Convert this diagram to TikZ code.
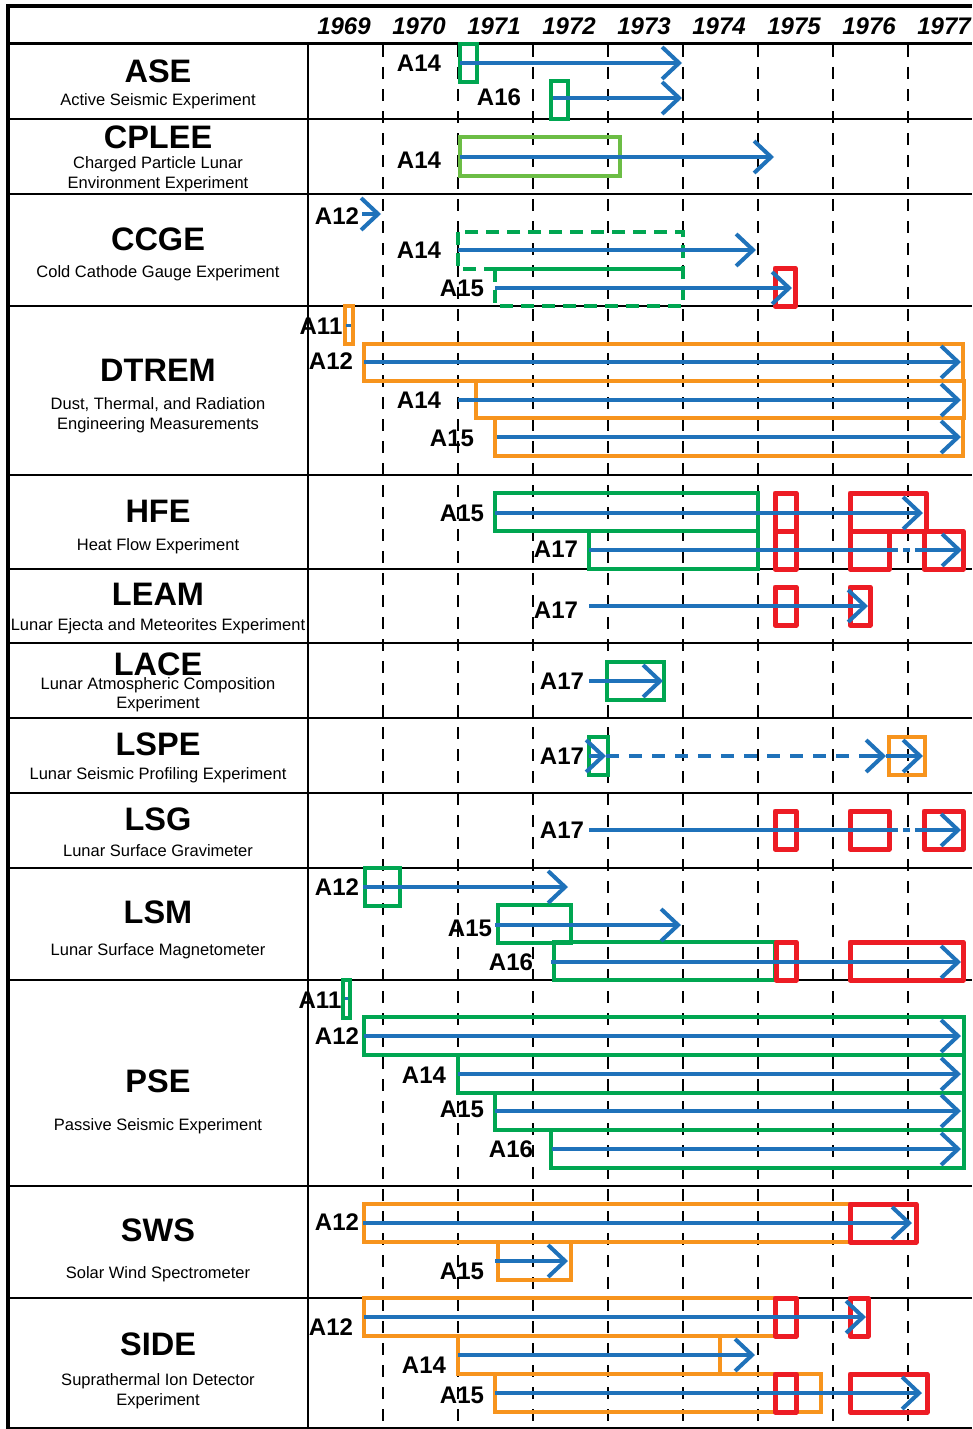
\documentclass[tikz,border=0pt]{standalone}
\usepackage{fontspec}
\setmainfont{Liberation Sans}
\usetikzlibrary{arrows.meta}
\definecolor{ablue}{RGB}{31,114,186}
\definecolor{agreen}{RGB}{0,166,81}
\definecolor{lgreen}{RGB}{108,189,69}
\definecolor{aorange}{RGB}{247,148,29}
\definecolor{ared}{RGB}{237,28,36}
\tikzset{
 arr/.style={draw=ablue, line width=4pt, -{Straight Barb[length=17pt,width=32pt]}},
 ln/.style={draw=ablue, line width=4pt},
 dln/.style={draw=ablue, line width=4pt, dash pattern=on 7pt off 5pt},
 lspedash/.style={draw=ablue, line width=4pt, dash pattern=on 13pt off 10pt},
 gbox/.style={draw=agreen, line width=3.5pt},
 gdash/.style={draw=agreen, line width=3.5pt, dash pattern=on 13pt off 8pt},
 lgbox/.style={draw=lgreen, line width=3.5pt},
 obox/.style={draw=aorange, line width=3.5pt},
 oboxthick/.style={draw=aorange, line width=4.5pt},
 rbox/.style={draw=ared, line width=5pt, line join=round},
 rowline/.style={draw=black, line width=2.5pt},
 yrline/.style={draw=black, line width=1.8pt, dash pattern=on 12pt off 10pt},
 lab/.style={font=\fontsize{24}{24}\selectfont\bfseries, inner sep=0pt},
 ttl/.style={font=\fontsize{32.5}{32.5}\selectfont\bfseries, anchor=base, inner sep=0pt},
 sub/.style={font=\fontsize{16.5}{16.5}\selectfont, anchor=base, inner sep=0pt},
 yr/.style={font=\fontsize{24}{24}\selectfont\bfseries\itshape, anchor=base, inner sep=0pt},
}
\begin{document}
\begin{tikzpicture}[x=1pt,y=-1pt]
\useasboundingbox[fill=white] (0,0) rectangle (972,1429);
% year dashed lines
\foreach \x in {383,458,533,608,683,758,833,908}
  \draw[yrline] (\x,45) -- (\x,1428);
% grid
\draw[draw=black, line width=4pt] (6,6) -- (972,6);
\draw[draw=black, line width=3.5pt] (8,4) -- (8,1429);
\draw[draw=black, line width=2pt] (308,44) -- (308,1429);
\draw[draw=black, line width=3pt] (8,44) -- (972,44);
\foreach \y in {119,194,306,475,569,643,718,793,868,980,1186,1298,1428}
  \draw[rowline] (8,\y) -- (972,\y);
% years
\foreach \yy [count=\i from 0] in {1969,1970,1971,1972,1973,1974,1975,1976,1977}
  \node[yr] (yr\yy) at ({344+75*\i},35) {\yy};
% left column
\node[ttl] (tASE) at (158,82) {ASE};
\node[sub] (sASE) at (158,105) {Active Seismic Experiment};
\node[ttl] (tCPLEE) at (158,148) {CPLEE};
\node[sub] (sCPLEE1) at (158,168) {Charged Particle Lunar};
\node[sub] (sCPLEE2) at (158,188) {Environment Experiment};
\node[ttl] (tCCGE) at (158,250) {CCGE};
\node[sub] (sCCGE) at (158,277) {Cold Cathode Gauge Experiment};
\node[ttl] (tDTREM) at (158,381) {DTREM};
\node[sub] (sDTREM1) at (158,409) {Dust, Thermal, and Radiation};
\node[sub] (sDTREM2) at (158,429) {Engineering Measurements};
\node[ttl] (tHFE) at (158,522) {HFE};
\node[sub] (sHFE) at (158,550) {Heat Flow Experiment};
\node[ttl] (tLEAM) at (158,605) {LEAM};
\node[sub] (sLEAM) at (158,630) {Lunar Ejecta and Meteorites Experiment};
\node[ttl] (tLACE) at (158,675) {LACE};
\node[sub] (sLACE1) at (158,689) {Lunar Atmospheric Composition};
\node[sub] (sLACE2) at (158,708) {Experiment};
\node[ttl] (tLSPE) at (158,755) {LSPE};
\node[sub] (sLSPE) at (158,779) {Lunar Seismic Profiling Experiment};
\node[ttl] (tLSG) at (158,830) {LSG};
\node[sub] (sLSG) at (158,856) {Lunar Surface Gravimeter};
\node[ttl] (tLSM) at (158,923) {LSM};
\node[sub] (sLSM) at (158,955) {Lunar Surface Magnetometer};
\node[ttl] (tPSE) at (158,1092) {PSE};
\node[sub] (sPSE) at (158,1130) {Passive Seismic Experiment};
\node[ttl] (tSWS) at (158,1241) {SWS};
\node[sub] (sSWS) at (158,1278) {Solar Wind Spectrometer};
\node[ttl] (tSIDE) at (158,1355) {SIDE};
\node[sub] (sSIDE1) at (158,1385) {Suprathermal Ion Detector};
\node[sub] (sSIDE2) at (158,1405) {Experiment};

% ---------- boxes ----------
% ASE
\draw[gbox] (460,44) rectangle (477,82);
\draw[gbox] (551,81) rectangle (568,119);
% CPLEE
\draw[lgbox] (460,137) rectangle (620,176);
% CCGE
\draw[gdash] (458,232) rectangle (683,269);
\draw[gbox] (495,269) -- (683,269);
\draw[gdash] (495,269) -- (495,306) -- (683,306) -- (683,269);
\draw[rbox] (775,268) rectangle (795,306);
% DTREM
\draw[obox] (345,306) rectangle (353,344);
\draw[oboxthick] (364,344) rectangle (963,381);
\draw[oboxthick] (476,381) rectangle (964,418);
\draw[oboxthick] (495,418) rectangle (963,456);
% HFE
\draw[gbox] (495,493) rectangle (758,531);
\draw[gbox] (589,531) rectangle (758,569);
\draw[rbox] (775,493) rectangle (796,531);
\draw[rbox] (775,531) rectangle (796,569);
\draw[rbox] (850,493) rectangle (926,531);
\draw[rbox] (850,531) rectangle (889,569);
\draw[rbox] (924,531) rectangle (963,569);
% LEAM
\draw[rbox] (775,587) rectangle (796,625);
\draw[rbox] (850,587) rectangle (870,625);
% LACE
\draw[gbox] (607,662) rectangle (664,700);
% LSPE
\draw[gbox] (589,737) rectangle (608,775);
\draw[oboxthick] (889,737) rectangle (925,775);
% LSG
\draw[rbox] (775,811) rectangle (796,849);
\draw[rbox] (850,811) rectangle (889,849);
\draw[rbox] (924,811) rectangle (963,849);
% LSM
\draw[gbox] (365,868) rectangle (400,906);
\draw[gbox] (498,905) rectangle (571,943);
\draw[gbox] (554,942) rectangle (775,980);
\draw[rbox] (776,942) rectangle (796,980);
\draw[rbox] (850,942) rectangle (963,980);
% PSE
\draw[gbox] (343,980) rectangle (350,1018);
\draw[gbox] (364,1017) rectangle (964,1055);
\draw[gbox] (458,1055) rectangle (964,1093);
\draw[gbox] (495,1093) rectangle (964,1130);
\draw[gbox] (551,1130) rectangle (964,1168);
% SWS
\draw[obox] (850,1204) -- (364,1204) -- (364,1242) -- (850,1242);
\draw[rbox] (850,1204) rectangle (916,1242);
\draw[obox] (498,1242) rectangle (571,1280);
% SIDE
\draw[obox] (775,1298) -- (364,1298) -- (364,1336) -- (775,1336);
\draw[rbox] (775,1298) rectangle (796,1336);
\draw[rbox] (850,1298) rectangle (868,1336);
\draw[obox] (458,1336) rectangle (720,1374);
\draw[obox] (495,1374) rectangle (821,1412);
\draw[rbox] (775,1374) rectangle (796,1412);
\draw[rbox] (850,1374) rectangle (927,1412);

% ---------- arrows ----------
% ASE
\draw[arr] (460,63) -- (682,63);
\draw[arr] (553,98) -- (682,98);
% CPLEE
\draw[arr] (460,157) -- (774,157);
% CCGE
\draw[arr] (362,214) -- (381,214);
\draw[arr] (458,250) -- (756,250);
\draw[arr] (495,288) -- (792,288);
% DTREM
\draw[ln, line width=3pt] (346,325) -- (351,325);
\draw[arr] (364,362) -- (961,362);
\draw[arr] (458,400) -- (961,400);
\draw[arr] (497,437) -- (961,437);
% HFE
\draw[arr] (495,513) -- (923,513);
\draw[ln] (589,550) -- (891,550);
\draw[dln] (891,550) -- (924,550);
\draw[arr] (922,550) -- (962,550);
% LEAM
\draw[arr] (589,606) -- (868,606);
% LACE
\draw[arr] (589,681) -- (663,681);
% LSPE
\draw[arr] (589,756) -- (606,756);
\draw[lspedash] (606,756) -- (872,756);
\draw[arr] (868,756) -- (886,756);
\draw[arr] (886,756) -- (923,756);
% LSG
\draw[ln] (589,830) -- (891,830);
\draw[dln] (891,830) -- (924,830);
\draw[arr] (922,830) -- (961,830);
% LSM
\draw[arr] (363,887) -- (568,887);
\draw[arr] (495,925) -- (681,925);
\draw[arr] (551,962) -- (961,962);
% PSE
\draw[ln, line width=3pt] (345,998) -- (348,998);
\draw[arr] (364,1036) -- (961,1036);
\draw[arr] (458,1074) -- (961,1074);
\draw[arr] (495,1111) -- (961,1111);
\draw[arr] (552,1149) -- (961,1149);
% SWS
\draw[arr] (363,1223) -- (912,1223);
\draw[arr] (495,1261) -- (568,1261);
% SIDE
\draw[arr] (364,1317) -- (866,1317);
\draw[arr] (458,1355) -- (755,1355);
\draw[arr] (495,1393) -- (922,1393);

% ---------- labels ----------
\node[lab] (aseA14) at (419,63) {A14};
\node[lab] (aseA16) at (499,97) {A16};
\node[lab] (cpA14) at (419,160) {A14};
\node[lab] (ccA12) at (337,216) {A12};
\node[lab] (ccA14) at (419,250) {A14};
\node[lab] (ccA15) at (462,288) {A15};
\node[lab] (dtA11) at (321,326) {A11};
\node[lab] (dtA12) at (331,361) {A12};
\node[lab] (dtA14) at (419,400) {A14};
\node[lab] (dtA15) at (452,438) {A15};
\node[lab] (hfA15) at (462,513) {A15};
\node[lab] (hfA17) at (556,549) {A17};
\node[lab] (leA17) at (556,610) {A17};
\node[lab] (laA17) at (562,681) {A17};
\node[lab] (lpA17) at (562,756) {A17};
\node[lab] (lgA17) at (562,830) {A17};
\node[lab] (lmA12) at (337,887) {A12};
\node[lab] (lmA15) at (470,928) {A15};
\node[lab] (lmA16) at (511,962) {A16};
\node[lab] (psA11) at (320,1000) {A11};
\node[lab] (psA12) at (337,1036) {A12};
\node[lab] (psA14) at (424,1075) {A14};
\node[lab] (psA15) at (462,1109) {A15};
\node[lab] (psA16) at (511,1149) {A16};
\node[lab] (swA12) at (337,1222) {A12};
\node[lab] (swA15) at (462,1271) {A15};
\node[lab] (siA12) at (331,1327) {A12};
\node[lab] (siA14) at (424,1365) {A14};
\node[lab] (siA15) at (462,1395) {A15};
\end{tikzpicture}
\end{document}
